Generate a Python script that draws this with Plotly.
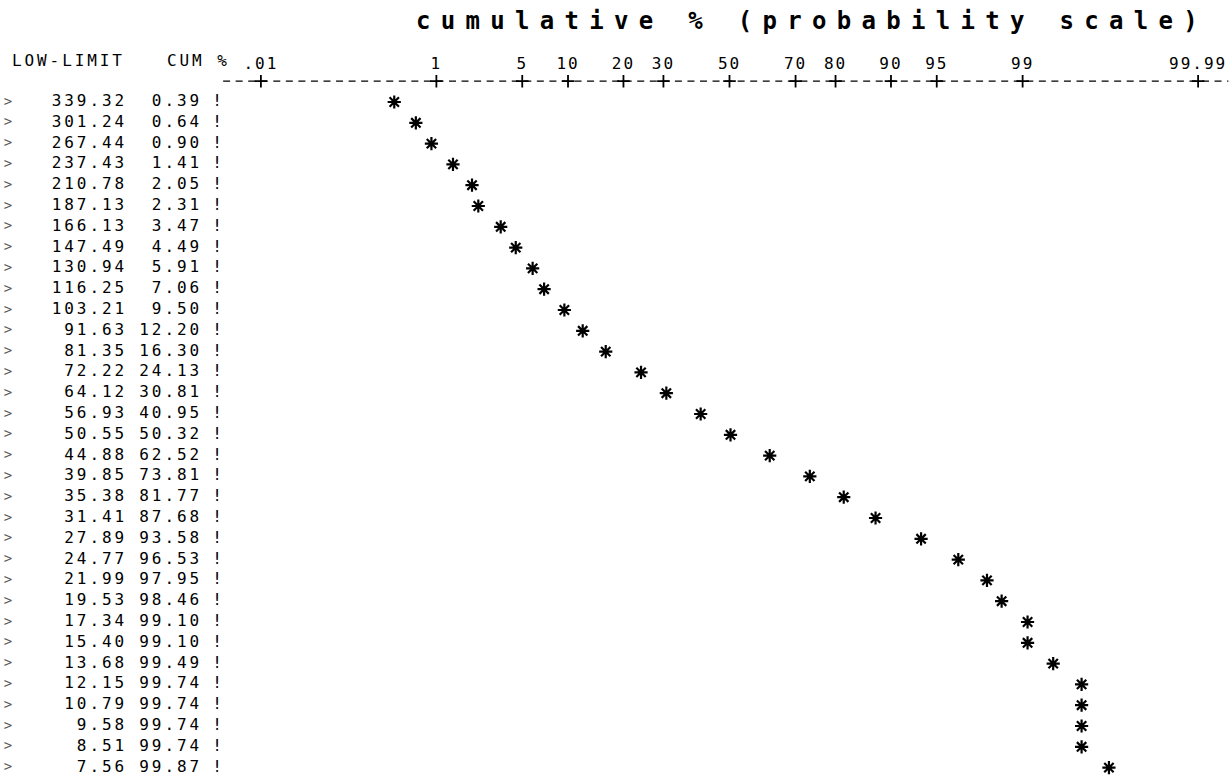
from statistics import NormalDist
import plotly.graph_objects as go

# ---------------- data ----------------
low_limit = [339.32, 301.24, 267.44, 237.43, 210.78, 187.13, 166.13, 147.49, 130.94,
             116.25, 103.21, 91.63, 81.35, 72.22, 64.12, 56.93, 50.55, 44.88, 39.85,
             35.38, 31.41, 27.89, 24.77, 21.99, 19.53, 17.34, 15.40, 13.68, 12.15,
             10.79, 9.58, 8.51, 7.56]
cum_pct = [0.39, 0.64, 0.90, 1.41, 2.05, 2.31, 3.47, 4.49, 5.91, 7.06, 9.50, 12.20,
           16.30, 24.13, 30.81, 40.95, 50.32, 62.52, 73.81, 81.77, 87.68, 93.58,
           96.53, 97.95, 98.46, 99.10, 99.10, 99.49, 99.74, 99.74, 99.74, 99.74, 99.87]
tick_pct = [0.01, 1, 5, 10, 20, 30, 50, 70, 80, 90, 95, 99, 99.99]
tick_text = [".01", "1", "5", "10", "20", "30", "50", "70", "80", "90", "95", "99", "99.99"]
title_text = "cumulative % (probability scale)"
header_low = "LOW-LIMIT"
header_cum = "CUM %"

# ---------------- geometry / style (page pixels) ----------------
W, H = 1229, 779
PX_PER_Z = 126.0            # pixels per probit unit
Z0_PX = 729.5               # page column of 50 %
ROW0_PX, ROW_H = 102.0, 20.8
FONT = "DejaVu Sans Mono"
LS = "letter-spacing:2.9px"

nd = NormalDist()
probit = lambda p: nd.inv_cdf(p / 100.0)

rows = list(range(len(low_limit)))
zx = [probit(p) for p in cum_pct]
zt = [probit(p) for p in tick_pct]


def sp(s, style=LS):
    return f'<span style="{style}">{s}</span>'


def row_of(page_y):
    return (page_y - ROW0_PX) / ROW_H


def paper_y(r):
    return 1 - (ROW0_PX + ROW_H * r) / H


fig = go.Figure()

# stars (probability plot)
fig.add_trace(go.Scatter(x=zx, y=rows, mode="markers", xaxis="x", yaxis="y",
                         marker=dict(symbol="asterisk-open", size=11, color="black",
                                     line=dict(width=2.2, color="black")),
                         cliponaxis=False, hoverinfo="skip"))
# '+' tick marks on the dashed axis line
fig.add_trace(go.Scatter(x=zt, y=[-1] * len(zt), mode="markers", xaxis="x", yaxis="y",
                         marker=dict(symbol="cross-thin-open", size=9, color="black",
                                     line=dict(width=1.8, color="black")),
                         cliponaxis=False, hoverinfo="skip"))

# table columns (on a page-pixel overlay axis)
tfont = dict(family=FONT, size=16, color="black")
fig.add_trace(go.Scatter(x=[8] * len(rows), y=rows, mode="text", xaxis="x2", yaxis="y",
                         text=[">"] * len(rows), textposition="middle center",
                         textfont=dict(family=FONT, size=14, color="#555"),
                         cliponaxis=False, hoverinfo="skip"))
fig.add_trace(go.Scatter(x=[127] * len(rows), y=rows, mode="text", xaxis="x2", yaxis="y",
                         text=[sp(f"{v:.2f}") for v in low_limit], textposition="middle left",
                         textfont=tfont, cliponaxis=False, hoverinfo="skip"))
fig.add_trace(go.Scatter(x=[202] * len(rows), y=rows, mode="text", xaxis="x2", yaxis="y",
                         text=[sp(f"{v:.2f}") for v in cum_pct], textposition="middle left",
                         textfont=tfont, cliponaxis=False, hoverinfo="skip"))
fig.add_trace(go.Scatter(x=[217] * len(rows), y=rows, mode="text", xaxis="x2", yaxis="y",
                         text=["!"] * len(rows), textposition="middle center",
                         textfont=tfont, cliponaxis=False, hoverinfo="skip"))

# dashed axis line
fig.add_shape(type="line", xref="x", yref="y", x0=zt[0] - 0.30, x1=zt[-1] + 0.24,
              y0=-1, y1=-1, line=dict(color="black", width=1.3, dash="7px,5.55px"))

annots = [
    dict(text=sp(header_low), x=10, y=-2, xanchor="left"),
    dict(text=sp(header_cum), x=165, y=-2, xanchor="left"),
    dict(text=sp(title_text, "letter-spacing:10.3px"), x=414, y=-3.9, xanchor="left",
         font=dict(family=FONT, size=24, color="black", weight="bold")),
]
for a in annots:
    a.setdefault("font", dict(family=FONT, size=16, color="black"))
    fig.add_annotation(xref="x2", yref="y", showarrow=False, yanchor="middle", **a)

fig.update_layout(
    width=W, height=H, margin=dict(l=0, r=0, t=0, b=0, pad=0),
    paper_bgcolor="white", plot_bgcolor="white", showlegend=False, hovermode=False,
    xaxis=dict(range=[-Z0_PX / PX_PER_Z, (W - Z0_PX) / PX_PER_Z], domain=[0, 1],
               tickvals=zt, ticktext=[sp(t, "letter-spacing:2px") for t in tick_text],
               side="top", anchor="free", position=paper_y(-1), ticks="",
               ticklabelstandoff=9, ticklabeloverflow="allow", automargin=False,
               showgrid=False, zeroline=False, showline=False,
               tickfont=dict(family=FONT, size=16, color="black")),
    xaxis2=dict(range=[0, W], overlaying="x", visible=False, automargin=False),
    yaxis=dict(range=[row_of(H), row_of(0)], domain=[0, 1], visible=False,
               automargin=False),
)

fig.write_html("out.html",
               config={"displayModeBar": False, "staticPlot": True},
               post_script="document.body.style.margin='0';"
                           "document.body.style.overflow='hidden';")
